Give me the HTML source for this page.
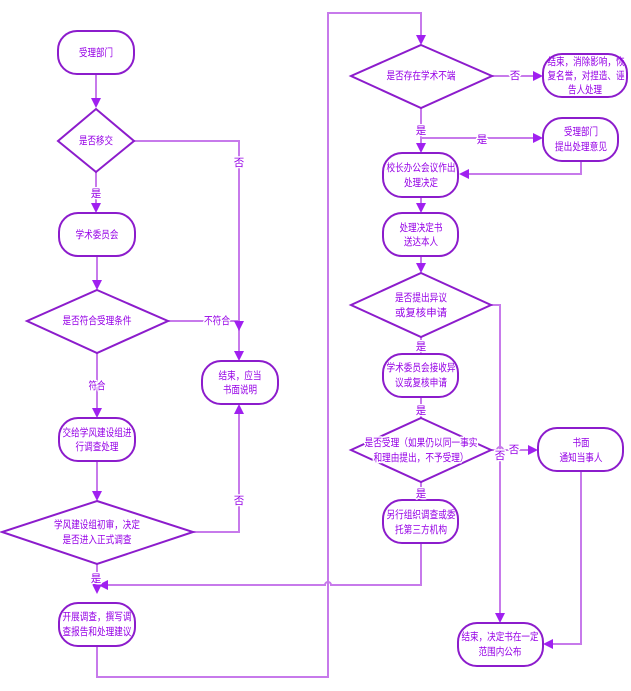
<!DOCTYPE html>
<html><head><meta charset="utf-8"><style>
html,body{margin:0;padding:0;background:#fff;}
svg{display:block;}
text{font-family:"Liberation Sans","Noto Sans CJK SC",sans-serif;font-size:10.5px;fill:#9600e6;}
.h{stroke:#fff;stroke-width:3px;paint-order:stroke;stroke-linejoin:round;}
</style></head><body>
<svg width="631" height="691" viewBox="0 0 631 691" xmlns="http://www.w3.org/2000/svg">
<rect width="631" height="691" fill="#fff"/>
<!-- connectors -->
<g fill="none" stroke="#c77aeb" stroke-width="2">
<path d="M96,74 V104"/>
<path d="M134,141 H239 V356"/>
<path d="M96,172 V208"/>
<path d="M97,256 V286"/>
<path d="M168,321 H239"/>
<path d="M97,353 V414"/>
<path d="M97,461 V497"/>
<path d="M193,532 H239 V410"/>
<path d="M97,564 V590"/>
<path d="M97,646 V677 H328 V13 H421 V40"/>
<path d="M492,76 H536"/>
<path d="M421,108 V149"/>
<path d="M421,138 H538"/>
<path d="M581,161 V174 H464"/>
<path d="M421,197 V209"/>
<path d="M421,256 V269"/>
<path d="M491,305 H500 V618"/>
<path d="M421,337 V354"/>
<path d="M421,397 V418"/>
<path d="M491,450 H497 A3,3 0 0 1 503,450 H533"/>
<path d="M581,471 V644 H548"/>
<path d="M421,482 V500"/>
<path d="M421,543 V585 H331 A3,3 0 0 0 325,585 H104"/>
</g>
<!-- arrowheads -->
<g fill="#a020f0">
<polygon points="91,98 101,98 96,108"/>
<polygon points="91,203 101,203 96,213"/>
<polygon points="92,280 102,280 97,290"/>
<polygon points="234,321 244,321 239,331"/>
<polygon points="234,351 244,351 239,361"/>
<polygon points="92,408 102,408 97,418"/>
<polygon points="92,491 102,491 97,501"/>
<polygon points="234,414 244,414 239,404"/>
<polygon points="92,584 102,584 97,594"/>
<polygon points="108,580 108,590 98,585"/>
<polygon points="416,35 426,35 421,45"/>
<polygon points="533,71 533,81 543,76"/>
<polygon points="416,143 426,143 421,153"/>
<polygon points="533,133 533,143 543,138"/>
<polygon points="469,169 469,179 459,174"/>
<polygon points="416,203 426,203 421,213"/>
<polygon points="416,263 426,263 421,273"/>
<polygon points="528,445 528,455 538,450"/>
<polygon points="495,613 505,613 500,623"/>
<polygon points="553,639 553,649 543,644"/>
</g>
<!-- nodes -->
<g fill="#fff" stroke="#8c1ccc" stroke-width="2">
<rect x="58" y="31" width="76" height="43" rx="19"/>
<polygon points="96,109 134,141 96,172 58,141"/>
<rect x="59" y="213" width="76" height="43" rx="19"/>
<polygon points="97,290 168,321 97,353 27,321"/>
<rect x="202" y="361" width="76" height="43" rx="19"/>
<rect x="59" y="418" width="76" height="43" rx="19"/>
<polygon points="97,501 193,532 97,564 2,532"/>
<rect x="59" y="603" width="76" height="43" rx="19"/>
<polygon points="421,45 492,76 421,108 351,76"/>
<rect x="543" y="54" width="84" height="43" rx="19"/>
<rect x="543" y="118" width="75" height="43" rx="19"/>
<rect x="383" y="153" width="75" height="44" rx="19"/>
<rect x="383" y="213" width="75" height="43" rx="19"/>
<polygon points="421,273 491,305 421,337 351,305"/>
<rect x="383" y="354" width="75" height="43" rx="19"/>
<polygon points="421,418 491,450 421,482 351,450"/>
<rect x="538" y="428" width="85" height="43" rx="19"/>
<rect x="383" y="500" width="75" height="43" rx="19"/>
<rect x="458" y="623" width="85" height="43" rx="19"/>
</g>
<!-- node text -->
<g text-anchor="middle" dominant-baseline="central">
<text x="96" y="53" textLength="34" lengthAdjust="spacingAndGlyphs">受理部门</text>
<text x="96" y="141" textLength="34" lengthAdjust="spacingAndGlyphs">是否移交</text>
<text x="97" y="235" textLength="43" lengthAdjust="spacingAndGlyphs">学术委员会</text>
<text x="97" y="321" textLength="69" lengthAdjust="spacingAndGlyphs">是否符合受理条件</text>
<text x="240" y="376" textLength="43" lengthAdjust="spacingAndGlyphs">结束，应当</text>
<text x="240" y="390" textLength="34" lengthAdjust="spacingAndGlyphs">书面说明</text>
<text x="97" y="433" textLength="69" lengthAdjust="spacingAndGlyphs">交给学风建设组进</text>
<text x="97" y="447" textLength="43" lengthAdjust="spacingAndGlyphs">行调查处理</text>
<text x="97" y="525" textLength="86" lengthAdjust="spacingAndGlyphs">学风建设组初审，决定</text>
<text x="97" y="540" textLength="69" lengthAdjust="spacingAndGlyphs">是否进入正式调查</text>
<text x="97" y="617" textLength="69" lengthAdjust="spacingAndGlyphs">开展调查，撰写调</text>
<text x="97" y="632" textLength="69" lengthAdjust="spacingAndGlyphs">查报告和处理建议</text>
<text x="421" y="76" textLength="69" lengthAdjust="spacingAndGlyphs">是否存在学术不端</text>
<text x="586" y="62" textLength="77" lengthAdjust="spacingAndGlyphs">结束，消除影响，恢</text>
<text x="586" y="76" textLength="77" lengthAdjust="spacingAndGlyphs">复名誉，对捏造、诬</text>
<text x="585" y="90" textLength="34" lengthAdjust="spacingAndGlyphs">告人处理</text>
<text x="581" y="132" textLength="34" lengthAdjust="spacingAndGlyphs">受理部门</text>
<text x="581" y="147" textLength="52" lengthAdjust="spacingAndGlyphs">提出处理意见</text>
<text x="421" y="168" textLength="69" lengthAdjust="spacingAndGlyphs">校长办公会议作出</text>
<text x="421" y="183" textLength="34" lengthAdjust="spacingAndGlyphs">处理决定</text>
<text x="421" y="228" textLength="43" lengthAdjust="spacingAndGlyphs">处理决定书</text>
<text x="421" y="242" textLength="34" lengthAdjust="spacingAndGlyphs">送达本人</text>
<text x="421" y="298" textLength="52" lengthAdjust="spacingAndGlyphs">是否提出异议</text>
<text x="421" y="313" textLength="52" lengthAdjust="spacingAndGlyphs">或复核申请</text>
<text x="421" y="368" textLength="69" lengthAdjust="spacingAndGlyphs">学术委员会接收异</text>
<text x="421" y="383" textLength="52" lengthAdjust="spacingAndGlyphs">议或复核申请</text>
<text class="h" x="421" y="443" textLength="113" lengthAdjust="spacingAndGlyphs">是否受理（如果仍以同一事实</text>
<text class="h" x="421" y="458" textLength="95" lengthAdjust="spacingAndGlyphs">和理由提出，不予受理）</text>
<text x="581" y="443" textLength="17" lengthAdjust="spacingAndGlyphs">书面</text>
<text x="581" y="458" textLength="43" lengthAdjust="spacingAndGlyphs">通知当事人</text>
<text x="421" y="515" textLength="69" lengthAdjust="spacingAndGlyphs">另行组织调查或委</text>
<text x="421" y="530" textLength="52" lengthAdjust="spacingAndGlyphs">托第三方机构</text>
<text x="500" y="637" textLength="77" lengthAdjust="spacingAndGlyphs">结束，决定书在一定</text>
<text x="500" y="652" textLength="43" lengthAdjust="spacingAndGlyphs">范围内公布</text>
</g>
<!-- connector labels -->
<g text-anchor="middle" dominant-baseline="central">
<text class="h" x="239" y="163">否</text>
<text class="h" x="96" y="194">是</text>
<text class="h" x="217" y="321" textLength="26" lengthAdjust="spacingAndGlyphs">不符合</text>
<text class="h" x="97" y="386" textLength="17" lengthAdjust="spacingAndGlyphs">符合</text>
<text class="h" x="239" y="501">否</text>
<text class="h" x="96" y="579">是</text>
<text class="h" x="515" y="76">否</text>
<text class="h" x="421" y="131">是</text>
<text class="h" x="482" y="140">是</text>
<text class="h" x="421" y="347">是</text>
<text class="h" x="421" y="411">是</text>
<text class="h" x="514" y="450">否</text>
<text class="h" x="500" y="456">否</text>
<text class="h" x="421" y="494">是</text>
</g>
</svg>
</body></html>
